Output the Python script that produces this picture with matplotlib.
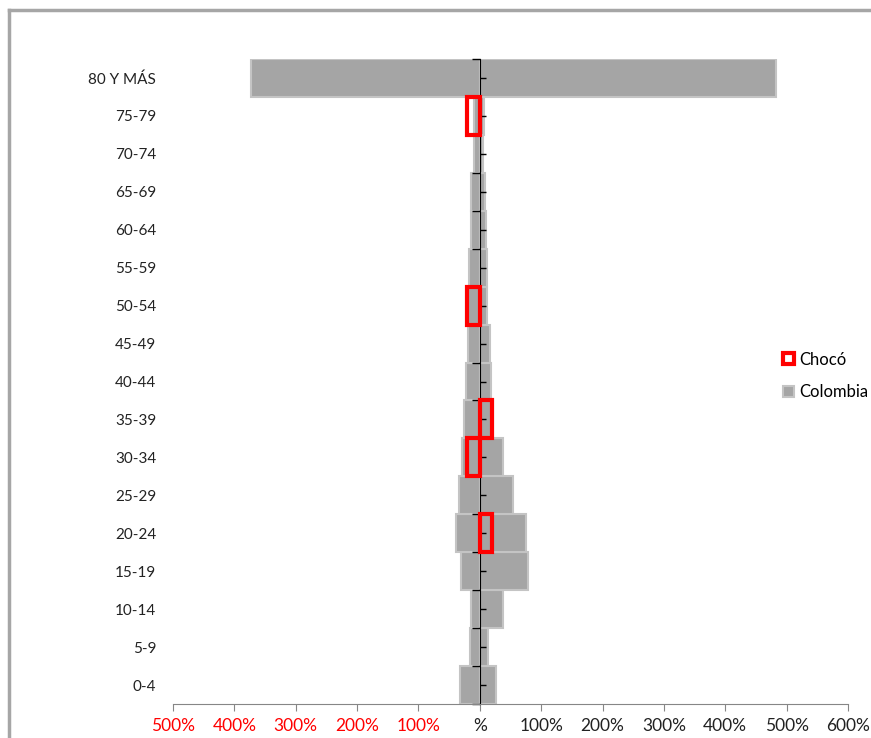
import matplotlib.pyplot as plt
from matplotlib.lines import Line2D
from matplotlib.patches import Patch

plt.rcParams['font.family'] = ['Lato', 'DejaVu Sans']

# Grupos de edad, de abajo hacia arriba
grupos = ['0-4', '5-9', '10-14', '15-19', '20-24', '25-29', '30-34', '35-39',
          '40-44', '45-49', '50-54', '55-59', '60-64', '65-69', '70-74',
          '75-79', '80 Y MÁS']

# Colombia (%), lado izquierdo negativo
colombia_izq = [-33, -16, -14, -30, -39, -34, -29, -26, -22, -20, -20, -17,
                -15, -14, -9, -10, -373]
colombia_der = [26, 14, 37, 79, 76, 54, 38, 22, 19, 16, 12, 11, 10, 8, 5, 7,
                483]

# Chocó (%)
choco_izq = [0, 0, 0, 0, 0, 0, -21, 0, 0, 0, -21, 0, 0, 0, 0, -21, 0]
choco_der = [0, 0, 0, 0, 20, 0, 0, 20, 0, 0, 0, 0, 0, 0, 0, 0, 0]

x_ticks = [-500, -400, -300, -200, -100, 0, 100, 200, 300, 400, 500, 600]
x_labels = ['500%', '400%', '300%', '200%', '100%', '%', '100%', '200%',
            '300%', '400%', '500%', '600%']

gris = '#a5a5a5'
borde_gris = '#c4c4c4'

fig = plt.figure(figsize=(8.71, 7.38), dpi=100)
ax = fig.add_axes([173 / 871, 34 / 738, 675 / 871, 645 / 738])

y = list(range(len(grupos)))
ax.barh(y, colombia_izq, height=1.0, color=gris, edgecolor=borde_gris,
        linewidth=1.5, zorder=1)
ax.barh(y, colombia_der, height=1.0, color=gris, edgecolor=borde_gris,
        linewidth=1.5, zorder=1)

# solo las barras de Chocó distintas de cero
for valores in (choco_izq, choco_der):
    idx = [i for i, v in enumerate(valores) if v != 0]
    ax.barh(idx, [valores[i] for i in idx], height=1.0, fill=False,
            edgecolor='#ff0000', linewidth=3, zorder=3)

x_min, x_max = -500, 600
ax.set_xlim(x_min, x_max)
ax.set_ylim(-0.5, len(grupos) - 0.5)

ax.set_xticks(x_ticks, x_labels)
for lbl, v in zip(ax.get_xticklabels(), x_ticks):
    lbl.set_color('#ff0000' if v < 0 else '#222222')
ax.tick_params(axis='x', direction='out', length=5, color='#868686',
               labelsize=12.5, pad=5)

ax.set_yticks(y, grupos)
ax.tick_params(axis='y', length=0, pad=12, labelsize=11, labelcolor='#222222')

for s in ['left', 'top', 'right']:
    ax.spines[s].set_visible(False)
ax.spines['bottom'].set_color('#868686')

# eje vertical en el cero
eje = ax.secondary_yaxis((0 - x_min) / (x_max - x_min))
eje.set_yticks([i - 0.5 for i in range(len(grupos) + 1)])
eje.set_yticks(y, minor=True)
eje.set_yticklabels([])
eje.tick_params(which='major', direction='out', length=6, width=1,
                color='black')
eje.tick_params(which='minor', direction='in', length=4, width=1,
                color='black')
eje.spines['left'].set_color('black')
eje.set_zorder(2)

handles = [Patch(facecolor='white', edgecolor='#ff0000', linewidth=3),
           Patch(facecolor=gris, edgecolor=borde_gris, linewidth=1.5)]
fig.legend(handles, ['Chocó', 'Colombia'], loc='center left',
           bbox_to_anchor=(783 / 871, 1 - 376 / 738), frameon=False,
           handlelength=0.65, handleheight=0.65, handletextpad=0.3,
           labelspacing=1.0, borderpad=0, borderaxespad=0, fontsize=12)

# marco del grafico (solo se ven arriba e izquierda)
fig.add_artist(Line2D([9 / 871, 1], [1 - 10 / 738, 1 - 10 / 738],
                      color='#a6a6a6', linewidth=2.5))
fig.add_artist(Line2D([9 / 871, 9 / 871], [0, 1 - 10 / 738],
                      color='#a6a6a6', linewidth=2.5))

fig.savefig('out.png', dpi=100)
